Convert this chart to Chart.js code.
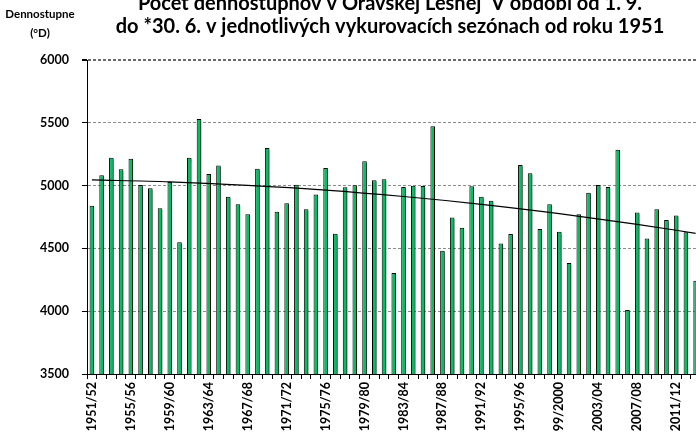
<!DOCTYPE html>
<html>
<head>
<meta charset="utf-8">
<script src="https://cdn.jsdelivr.net/npm/chart.js@4"></script>
<style>
html,body{margin:0;padding:0;background:#fff;}
#wrap{position:relative;width:696px;height:438px;overflow:hidden;background:#fff;}
#c{position:absolute;left:0;top:-10px;}
</style>
</head>
<body>
<div id="wrap"><canvas id="c" width="780" height="470"></canvas></div>
<script>
const titleLines = ['Počet dennostupňov v Oravskej Lesnej  V období od 1. 9.', 'do *30. 6. v jednotlivých vykurovacích sezónach od roku 1951'];
const yTitleLines = ['Dennostupne', '(°D)'];

const seasons = ['1951/52','1952/53','1953/54','1954/55','1955/56','1956/57','1957/58','1958/59','1959/60','1960/61',
  '1961/62','1962/63','1963/64','1964/65','1965/66','1966/67','1967/68','1968/69','1969/70','1970/71',
  '1971/72','1972/73','1973/74','1974/75','1975/76','1976/77','1977/78','1978/79','1979/80','1980/81',
  '1981/82','1982/83','1983/84','1984/85','1985/86','1986/87','1987/88','1988/89','1989/90','1990/91',
  '1991/92','1992/93','1993/94','1994/95','1995/96','1996/97','1997/98','1998/99','99/2000','2000/01',
  '2001/02','2002/03','2003/04','2004/05','2005/06','2006/07','2007/08','2008/09','2009/10','2010/11',
  '2011/12','2012/13','2013/14'];

const degreeDays = [4840,5082,5222,5130,5214,5005,4978,4819,5029,4548,
  5222,5530,5092,5161,4912,4851,4771,5135,5299,4792,
  4859,5007,4811,4930,5140,4617,4986,5002,5193,5042,
  5050,4304,4989,4999,4997,5472,4482,4747,4665,4994,
  4912,4880,4540,4615,5164,5098,4654,4851,4633,4384,
  4771,4944,5005,4989,5286,4010,4785,4578,4811,4726,
  4761,4628,4243];

// trend curve values at selected seasons (others left empty)
const trend = [5045,null,null,null,null,null,null,null,5030,null,
  null,null,null,null,null,null,5002,null,null,null,
  null,null,null,null,4964,null,null,null,null,null,
  null,null,4913,null,null,null,null,null,null,null,
  4851,null,null,null,null,null,null,null,4777,null,
  null,null,null,null,null,null,4692,null,null,null,
  null,null,4620];

const yTicks = [3500,4000,4500,5000,5500,6000];
const labelEvery = 4;

const shadowPlugin = {
  id: 'barShadow',
  beforeDatasetDraw(chart, args) {
    if (args.meta.type === 'bar') {
      const ctx = chart.ctx;
      ctx.save();
      ctx.shadowColor = 'rgba(0,0,0,0.45)';
      ctx.shadowOffsetX = 2.5;
      ctx.shadowOffsetY = 1.5;
      ctx.shadowBlur = 1;
    }
  },
  afterDatasetDraw(chart, args) {
    if (args.meta.type === 'bar') chart.ctx.restore();
  }
};

const yTitlePlugin = {
  id: 'yTitle',
  afterDraw(chart) {
    const ctx = chart.ctx;
    ctx.save();
    ctx.fillStyle = '#000';
    ctx.font = 'bold 11.5px Lato';
    ctx.textAlign = 'center';
    ctx.textBaseline = 'middle';
    ctx.fillText(yTitleLines[0], 40, 24);
    ctx.fillText(yTitleLines[1], 40, 43);
    ctx.restore();
  }
};

new Chart(document.getElementById('c'), {
  data: {
    labels: seasons,
    datasets: [
      {
        type: 'line',
        data: trend,
        spanGaps: true,
        borderColor: '#000',
        borderWidth: 1.2,
        pointRadius: 0,
        cubicInterpolationMode: 'monotone',
        order: 0
      },
      {
        type: 'bar',
        data: degreeDays,
        backgroundColor: '#00C060',
        borderColor: '#000',
        borderWidth: 1,
        barPercentage: 0.47,
        categoryPercentage: 1,
        order: 1
      }
    ]
  },
  options: {
    responsive: false,
    animation: false,
    devicePixelRatio: 1,
    layout: { padding: 0 },
    plugins: {
      legend: { display: false },
      tooltip: { enabled: false },
      title: {
        display: true,
        text: titleLines,
        color: '#000',
        font: { family: 'Lato', weight: 'bold', size: 20, lineHeight: '23px' },
        padding: { top: 2, bottom: 22 }
      }
    },
    scales: {
      x: {
        offset: true,
        afterFit: (s) => { s.height = 86; },
        grid: { display: true, drawOnChartArea: false, drawTicks: true, tickLength: 5, tickColor: '#000', offset: true },
        border: { display: true, color: '#000', width: 1 },
        ticks: {
          autoSkip: false,
          minRotation: 90,
          maxRotation: 90,
          padding: 3,
          color: '#000',
          font: { family: 'Lato', weight: 'bold', size: 12.5 },
          callback: (v, i) => (i % labelEvery === 0 ? seasons[i] : '')
        }
      },
      y: {
        min: 3500,
        max: 6000,
        afterFit: (s) => { s.width = 87; },
        afterBuildTicks: (s) => { s.ticks = yTicks.map(v => ({ value: v })); },
        grid: {
          color: (c) => (c.tick && c.tick.value === 6000 ? '#6a6a6a' : (c.tick && c.tick.value === 3500 ? 'rgba(0,0,0,0)' : '#8c8c8c')),
          lineWidth: (c) => (c.tick && c.tick.value === 6000 ? 2 : 1),
          drawTicks: true,
          tickLength: 5,
          tickColor: '#000',
          tickBorderDash: []
        },
        border: { display: true, color: '#000', width: 1, dash: [3, 2] },
        ticks: {
          padding: 13,
          color: '#000',
          font: { family: 'Lato', weight: 'bold', size: 12.5 },
          callback: (v) => String(v)
        }
      },
      yRight: {
        position: 'right',
        min: 3500,
        max: 6000,
        afterFit: (s) => { s.width = 79.5; },
        grid: { display: false, drawOnChartArea: false, drawTicks: false },
        border: { display: false },
        ticks: { display: false }
      }
    }
  },
  plugins: [shadowPlugin, yTitlePlugin]
});
</script>
</body>
</html>
